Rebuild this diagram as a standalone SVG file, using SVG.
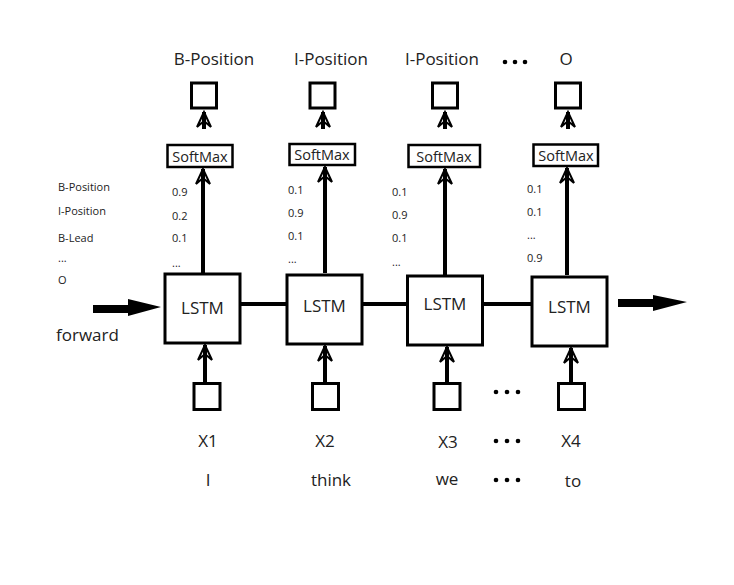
<svg xmlns="http://www.w3.org/2000/svg" width="734" height="585" viewBox="0 0 734 585">
<defs>
<marker id="ah" markerWidth="20" markerHeight="20" viewBox="-18 -10 20 20" refX="0" refY="0" orient="auto" markerUnits="userSpaceOnUse">
<path d="M0,0 L-15,-7 L-9,0 L-15,7 Z" fill="none" stroke="#000" stroke-width="2" stroke-linejoin="miter"/>
</marker>
<style>
text{font-family:"Open Sans","Noto Sans","Liberation Sans",sans-serif;fill:#222}
.big{font-size:17px}
.sm{font-size:11px}
.lstm{fill:#fff;stroke:#000;stroke-width:3}
.sq{fill:#fff;stroke:#000;stroke-width:3}
.smx{fill:#fff;stroke:#000;stroke-width:2.5}
.c{stroke:#000;stroke-width:4;fill:none}
.up{stroke:#000;stroke-width:4;fill:none}
</style>
</defs>
<rect width="734" height="585" fill="#fff"/>
<g id="connectors">
<line class="c" x1="240" y1="304" x2="287" y2="304"/>
<line class="c" x1="362" y1="304" x2="407" y2="304"/>
<line class="c" x1="483" y1="304" x2="531" y2="304"/>
<path d="M93,305 L128,305 L128,299 L161,307 L128,316 L128,313 L93,313 Z" fill="#000"/>
<path d="M618,299 L653,299 L653,295 L687,302 L653,311 L653,307 L618,307 Z" fill="#000"/>
<path class="up" d="M203,273 V169" marker-end="url(#ah)"/>
<path class="up" d="M325,273 V167" marker-end="url(#ah)"/>
<path class="up" d="M445,275 V169" marker-end="url(#ah)"/>
<path class="up" d="M567,275 V168" marker-end="url(#ah)"/>
<path class="up" d="M204,129 V112" marker-end="url(#ah)"/>
<path class="up" d="M323,129 V112" marker-end="url(#ah)"/>
<path class="up" d="M445,129 V112" marker-end="url(#ah)"/>
<path class="up" d="M568,129 V112" marker-end="url(#ah)"/>
<path class="up" d="M205,382 V345" marker-end="url(#ah)"/>
<path class="up" d="M325,382 V346" marker-end="url(#ah)"/>
<path class="up" d="M447,382 V347" marker-end="url(#ah)"/>
<path class="up" d="M571,382 V348" marker-end="url(#ah)"/>
</g>
<g id="lstm1"><rect class="lstm" x="165" y="274" width="75" height="69"/><text class="big" x="202.5" y="314" text-anchor="middle">LSTM</text></g>
<g id="lstm2"><rect class="lstm" x="287" y="275" width="75" height="69"/><text class="big" x="324.5" y="312" text-anchor="middle">LSTM</text></g>
<g id="lstm3"><rect class="lstm" x="407.5" y="276" width="75" height="69"/><text class="big" x="445" y="310" text-anchor="middle">LSTM</text></g>
<g id="lstm4"><rect class="lstm" x="532" y="277" width="75" height="69"/><text class="big" x="569.5" y="313" text-anchor="middle">LSTM</text></g>
<g id="softmax1"><rect class="smx" x="167.5" y="145" width="65" height="22"/><text x="200" y="161.5" font-size="14.5" text-anchor="middle">SoftMax</text></g>
<g id="softmax2"><rect class="smx" x="289.5" y="144" width="65.5" height="21"/><text x="322" y="160" font-size="14.5" text-anchor="middle">SoftMax</text></g>
<g id="softmax3"><rect class="smx" x="408.5" y="145" width="71.5" height="22"/><text x="444" y="161.5" font-size="14.5" text-anchor="middle">SoftMax</text></g>
<g id="softmax4"><rect class="smx" x="533.5" y="144.5" width="64.5" height="21.5"/><text x="566" y="160.5" font-size="14.5" text-anchor="middle">SoftMax</text></g>
<g id="out1"><rect class="sq" x="191.5" y="83" width="25" height="25"/></g>
<g id="out2"><rect class="sq" x="310" y="83" width="25" height="25"/></g>
<g id="out3"><rect class="sq" x="432.5" y="83" width="25" height="25"/></g>
<g id="out4"><rect class="sq" x="555.5" y="83" width="25" height="25"/></g>
<g id="in1"><rect class="sq" x="194" y="383.5" width="26" height="26"/></g>
<g id="in2"><rect class="sq" x="312.5" y="383.5" width="26" height="26"/></g>
<g id="in3"><rect class="sq" x="434" y="383.5" width="26" height="26"/></g>
<g id="in4"><rect class="sq" x="558.5" y="383.5" width="26" height="26"/></g>
<g id="labels">
<text class="big" x="214" y="65" text-anchor="middle">B-Position</text>
<text class="big" x="331" y="65" text-anchor="middle">I-Position</text>
<text class="big" x="442" y="65" text-anchor="middle">I-Position</text>
<text class="big" x="566" y="65" text-anchor="middle">O</text>
<g fill="#000"><circle cx="505" cy="62" r="2.3"/><circle cx="515" cy="62" r="2.3"/><circle cx="525" cy="62" r="2.3"/></g>
<text class="sm" x="58" y="191">B-Position</text>
<text class="sm" x="58" y="215">I-Position</text>
<text class="sm" x="58" y="242">B-Lead</text>
<text class="sm" x="58" y="262">...</text>
<text class="sm" x="58" y="284">O</text>
<text class="sm" x="172" y="196">0.9</text>
<text class="sm" x="172" y="220">0.2</text>
<text class="sm" x="172" y="242">0.1</text>
<text class="sm" x="172" y="267">...</text>
<text class="sm" x="288" y="194">0.1</text>
<text class="sm" x="288" y="217">0.9</text>
<text class="sm" x="288" y="240">0.1</text>
<text class="sm" x="288" y="263">...</text>
<text class="sm" x="392" y="196">0.1</text>
<text class="sm" x="392" y="219">0.9</text>
<text class="sm" x="392" y="242">0.1</text>
<text class="sm" x="392" y="266">...</text>
<text class="sm" x="527" y="193">0.1</text>
<text class="sm" x="527" y="216">0.1</text>
<text class="sm" x="527" y="239">...</text>
<text class="sm" x="527" y="262">0.9</text>
<text class="big" x="56" y="341">forward</text>
<text class="big" x="208" y="447" text-anchor="middle">X1</text>
<text class="big" x="325" y="447" text-anchor="middle">X2</text>
<text class="big" x="448" y="448" text-anchor="middle">X3</text>
<text class="big" x="571" y="447" text-anchor="middle">X4</text>
<text class="big" x="208" y="486" text-anchor="middle">I</text>
<text class="big" x="331" y="486" text-anchor="middle">think</text>
<text class="big" x="447" y="485" text-anchor="middle">we</text>
<text class="big" x="573" y="487" text-anchor="middle">to</text>
<g fill="#000">
<circle cx="496" cy="392" r="2.3"/><circle cx="507" cy="392" r="2.3"/><circle cx="518" cy="392" r="2.3"/>
<circle cx="496" cy="441" r="2.3"/><circle cx="507" cy="441" r="2.3"/><circle cx="518" cy="441" r="2.3"/>
<circle cx="496" cy="480" r="2.3"/><circle cx="507" cy="480" r="2.3"/><circle cx="518" cy="480" r="2.3"/>
</g>
</g>
</svg>
